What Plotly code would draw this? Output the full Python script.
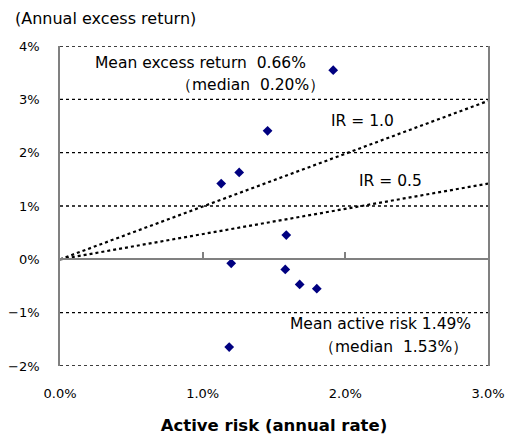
import plotly.graph_objects as go

# Data (percent)
active_risk = [1.915, 1.455, 1.256, 1.13, 1.586, 1.20, 1.579, 1.68, 1.80, 1.186]
excess_return = [3.546, 2.41, 1.63, 1.42, 0.456, -0.075, -0.19, -0.47, -0.55, -1.645]

ir_x = [0.0, 3.0]
ir10_y = [0.0, 2.97]
ir05_y = [0.0, 1.42]

y_ticks = [-2, -1, 0, 1, 2, 3, 4]
y_tick_labels = ["−2%", "−1%", "0%", "1%", "2%", "3%", "4%"]
x_ticks = [0, 1, 2, 3]
x_tick_labels = ["0.0%", "1.0%", "2.0%", "3.0%"]

FONT = "DejaVu Sans"

fig = go.Figure()

fig.add_trace(go.Scatter(x=ir_x, y=ir10_y, mode="lines",
                         line=dict(color="black", width=2.2, dash="dot"),
                         hoverinfo="skip", showlegend=False))
fig.add_trace(go.Scatter(x=ir_x, y=ir05_y, mode="lines",
                         line=dict(color="black", width=2.2, dash="dot"),
                         hoverinfo="skip", showlegend=False))
fig.add_trace(go.Scatter(x=active_risk, y=excess_return, mode="markers",
                         marker=dict(symbol="diamond", size=7.5, color="#000080"),
                         showlegend=False))

# axis through y = 0 with small tick marks
fig.add_trace(go.Scatter(x=[None], y=[None], xaxis="x2", showlegend=False))

# dotted horizontal gridlines (except the zero axis)
for v in y_ticks:
    if v != 0:
        fig.add_shape(type="line", xref="paper", x0=0, x1=1, yref="y", y0=v, y1=v,
                      line=dict(color="black", width=1.3, dash="dot"), layer="below")

fig.update_layout(
    width=505, height=435,
    margin=dict(l=60, r=17, t=46, b=69, autoexpand=False),
    paper_bgcolor="white", plot_bgcolor="white",
    font=dict(family=FONT, size=13, color="black"),
    xaxis=dict(range=[0, 3], tickvals=x_ticks, ticktext=x_tick_labels,
               showgrid=False, zeroline=False, showline=False, automargin=False,
               ticks="", ticklabelstandoff=18, ticklabeloverflow="allow",
               title=dict(text="<b>Active risk (annual rate)</b>",
                          font=dict(size=16.5), standoff=19)),
    xaxis2=dict(range=[0, 3], overlaying="x", anchor="free", automargin=False,
                position=1/3, tickvals=x_ticks, showticklabels=False,
                ticks="inside", ticklen=6, tickcolor="#808080", tickwidth=1.5,
                showline=True, linecolor="#808080", linewidth=2,
                showgrid=False, zeroline=False),
    yaxis=dict(range=[-2, 4], tickvals=y_ticks, ticktext=y_tick_labels,
               automargin=False, ticklabeloverflow="allow",
               showgrid=False, zeroline=False, showline=True, linecolor="#808080",
               linewidth=1.5, mirror=True, ticks="", ticklabelstandoff=16),
)

annos = [
    dict(text="Mean excess return  0.66%", x=0.231, y=3.68, xanchor="left"),
    dict(text="（median  0.20%）", x=0.80, y=3.26, xanchor="left"),
    dict(text="IR = 1.0", x=1.885, y=2.59, xanchor="left"),
    dict(text="IR = 0.5", x=2.08, y=1.47, xanchor="left"),
    dict(text="Mean active risk 1.49%", x=2.895, y=-1.22, xanchor="right"),
    dict(text="（median  1.53%）", x=2.874, y=-1.645, xanchor="right"),
]
for a in annos:
    fig.add_annotation(xref="x", yref="y", showarrow=False, yanchor="middle",
                       font=dict(size=15.5, family=FONT), **a)

fig.add_annotation(text="(Annual excess return)", xref="paper", yref="paper",
                   x=-47/428, y=1 + 28/320, xanchor="left", yanchor="middle",
                   showarrow=False, font=dict(size=16, family=FONT))

fig.write_html("out.html", config={"displayModeBar": False},
               post_script="document.body.style.margin='0';")
